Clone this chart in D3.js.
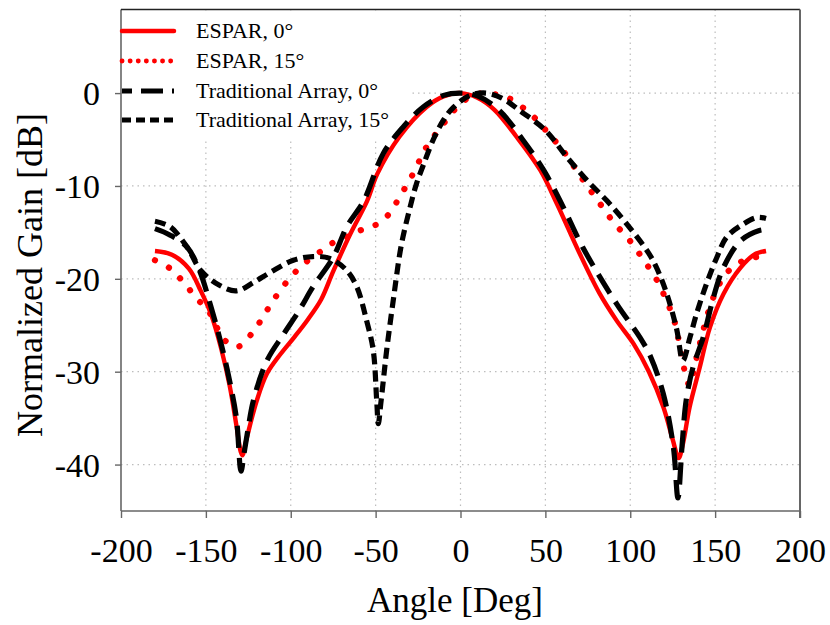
<!DOCTYPE html>
<html>
<head>
<meta charset="utf-8">
<script src="https://cdn.jsdelivr.net/npm/d3@7"></script>
<style>
  html, body { margin: 0; padding: 0; background: #fff; }
  svg { display: block; font-family: "Liberation Serif", "Times New Roman", serif; }
</style>
</head>
<body>
<svg id="chart" width="830" height="625"></svg>
<script>
// Axis ticks
const xTicks = [-200, -150, -100, -50, 0, 50, 100, 150, 200];
const yTicks = [0, -10, -20, -30, -40];

// Series names
const seriesNames = ["ESPAR, 0\u00B0", "ESPAR, 15\u00B0", "Traditional Array, 0\u00B0", "Traditional Array, 15\u00B0"];

// ESPAR, steered to 0°
const espar0Angle = [-180, -170, -160, -153, -147, -141, -136, -132, -129.5, -128.5, -126, -120, -114, -106, -98, -90, -82, -75, -65, -55, -49, -36, -20, -10, 0, 10, 20, 33, 47, 57, 70, 82, 92, 102, 111, 119.5, 125, 128.5, 131, 135, 141, 147, 155, 165, 173, 180];
const espar0Gain  = [-17, -17.4, -18.9, -21.3, -23.8, -27.5, -31.5, -35.8, -38.6, -39, -37.2, -33.1, -30.2, -28.1, -26.3, -24.4, -22.2, -19.2, -15.2, -11.6, -8.7, -4.7, -1.5, -0.35, 0, -0.5, -1.8, -4.7, -8.3, -12, -17.2, -21.6, -24.5, -27, -30, -33.8, -37.3, -39.3, -37.8, -33.8, -29.5, -25.2, -21.6, -18.8, -17.4, -17];

// ESPAR, steered to 15°
const espar15Angle = [-180, -171, -163, -156, -148, -139, -131, -123, -117, -112, -106, -99, -91, -82, -75, -66, -58, -49, -41.5, -36, -31, -26, -22, -17, -10, -4, 3, 8, 14, 22, 29, 37, 45, 52, 60, 72, 84.5, 91, 98.5, 105, 111, 116.5, 120.5, 124, 127, 130, 133, 135, 137, 141, 147, 153, 160, 170, 180];
const espar15Gain  = [-18, -18.9, -20.4, -22, -23.6, -26.6, -27.3, -25.9, -24.3, -22.8, -21.2, -19.6, -18.2, -17, -16.1, -15.4, -14.7, -14.1, -12.9, -11.2, -9.7, -8, -6.4, -5, -3.3, -1.9, -0.7, -0.2, 0, -0.2, -0.6, -1.6, -2.9, -4.4, -6.1, -9.3, -12.5, -14.1, -15.6, -17.2, -18.8, -20.4, -22, -23.5, -25.2, -28.1, -30.6, -31.5, -30.2, -27, -23, -20.4, -18.8, -17.8, -17.6];

// Traditional array, steered to 0°
const trad0Angle = [-180, -171, -161, -154, -147, -141, -136, -132, -129.3, -127.5, -125, -122, -114, -104, -95, -87, -75, -67, -57, -45.5, -34, -22, -10, 0, 10, 23, 37, 49, 60.6, 72, 92, 105.7, 112, 119.5, 125.4, 128.1, 130.5, 133, 137, 143, 149, 155, 165, 176, 180];
const trad0Gain  = [-14.6, -15.3, -16.6, -19, -23, -27, -31, -35, -40.7, -38.8, -36, -33.1, -28.8, -25.9, -23.4, -20.9, -17.7, -14.4, -11.6, -6.5, -3.7, -1.5, -0.25, 0, -0.3, -1.9, -5.1, -8.3, -12.3, -16.6, -22.7, -26.3, -28.4, -32.4, -38.1, -43.6, -38, -33, -29.5, -26.3, -22, -18.75, -15.9, -14.8, -14.7];

// Traditional array, steered to 15°
const trad15Angle = [-180, -171, -161, -153, -142, -132, -122, -112, -98.5, -87, -77, -67, -61, -55.3, -51.4, -49.4, -48.4, -47, -45.5, -43.5, -39.6, -35, -30, -26, -22, -16, -10, -5, 5, 15, 25, 35, 50, 62.7, 74.5, 86.3, 98, 110, 115, 121.5, 127.3, 131, 135.2, 139, 145, 151, 156.8, 166.6, 174.5, 180];
const trad15Gain  = [-13.8, -14.4, -16.6, -19.1, -20.7, -21.3, -20.4, -19.3, -18, -17.6, -17.8, -19.1, -20.9, -24.5, -27.7, -33, -35.6, -33.5, -31, -27.7, -22.3, -16.5, -12.5, -9.8, -7.8, -5, -2.9, -1.7, -0.3, 0, -0.6, -1.9, -4.0, -6.9, -9.4, -11.6, -14.1, -17, -18.6, -21.6, -25.4, -28.8, -26.3, -23.8, -20.5, -17.7, -15.5, -14.1, -13.4, -13.5];

const svg = d3.select("#chart");
const plotLeft = 121, plotRight = 800, plotTop = 9.5, plotBottom = 511;

const x = d3.scaleLinear().domain([-200, 200]).range([plotLeft, plotRight]);
const y = d3.scaleLinear().domain([-45, 9]).range([plotBottom, plotTop]);

// Dotted grid
const grid = svg.append("g").attr("class", "grid");
grid.selectAll("line.gx").data(xTicks.filter(t => t > -200 && t < 200)).join("line")
  .attr("class", "gx")
  .attr("x1", d => x(d)).attr("x2", d => x(d))
  .attr("y1", plotTop).attr("y2", plotBottom)
  .attr("stroke", "#bdbdbd").attr("stroke-width", 1.2).attr("stroke-dasharray", "1.5,4");
grid.selectAll("line.gy").data(yTicks).join("line")
  .attr("class", "gy")
  .attr("x1", plotLeft).attr("x2", plotRight)
  .attr("y1", d => y(d)).attr("y2", d => y(d))
  .attr("stroke", "#bdbdbd").attr("stroke-width", 1.2).attr("stroke-dasharray", "1.5,4");

// Legend background hides the grid behind it
svg.append("rect").attr("x", plotLeft + 1).attr("y", plotTop + 1).attr("width", 290).attr("height", 128).attr("fill", "#fff");

// Curves
svg.append("clipPath").attr("id", "plotClip")
  .append("rect").attr("x", plotLeft).attr("y", plotTop).attr("width", plotRight - plotLeft).attr("height", plotBottom - plotTop);

const line = d3.line().x(d => x(d[0])).y(d => y(d[1])).curve(d3.curveCatmullRom.alpha(0.5));
const zip = (a, b) => a.map((v, i) => [v, b[i]]);

const styles = [
  { data: zip(espar0Angle, espar0Gain), color: "#ff0000", width: 4.4, dash: null, cap: "butt",
    legendDash: null, legendWidth: 4.5, legendCap: "round" },
  { data: zip(espar15Angle, espar15Gain), color: "#ff0000", width: 6.2, dash: "0.1,15.5", cap: "round",
    legendDash: "0.1,8", legendWidth: 4.8, legendCap: "round" },
  { data: zip(trad0Angle, trad0Gain), color: "#000", width: 5.2, dash: "22,10", cap: "butt",
    legendDash: "10,9,22,9", legendWidth: 5, legendCap: "butt" },
  { data: zip(trad15Angle, trad15Gain), color: "#000", width: 5.2, dash: "11,6", cap: "butt",
    legendDash: "9,5", legendWidth: 5, legendCap: "butt" }
];

const plot = svg.append("g").attr("clip-path", "url(#plotClip)");
styles.forEach(s => {
  plot.append("path")
    .attr("d", line(s.data))
    .attr("fill", "none")
    .attr("stroke", s.color)
    .attr("stroke-width", s.width)
    .attr("stroke-linecap", s.cap)
    .attr("stroke-linejoin", "round")
    .attr("stroke-dasharray", s.dash);
});

// Axes
const fmt = d => String(d);
const xAxis = d3.axisBottom(x).tickValues(xTicks).tickSize(7).tickFormat(fmt);
const yAxis = d3.axisLeft(y).tickValues(yTicks).tickSize(6).tickFormat(fmt);

const gx = svg.append("g").attr("transform", `translate(0,${plotBottom})`).call(xAxis);
gx.select(".domain").attr("d", `M${plotLeft},0H${plotRight}`).attr("stroke", "#666").attr("stroke-width", 1.6);
gx.selectAll(".tick line").attr("stroke", "#666").attr("stroke-width", 1.4);
gx.selectAll(".tick text")
  .attr("font-family", "Liberation Serif, serif")
  .attr("font-size", 34).attr("fill", "#000")
  .attr("y", 51).attr("dy", null);

const gy = svg.append("g").attr("transform", `translate(${plotLeft},0)`).call(yAxis);
gy.select(".domain").attr("d", `M0,${plotTop}V${plotBottom}`).attr("stroke", "#666").attr("stroke-width", 1.6);
gy.selectAll(".tick line").attr("stroke", "#666").attr("stroke-width", 1.4);
gy.selectAll(".tick text")
  .attr("font-family", "Liberation Serif, serif")
  .attr("font-size", 34).attr("fill", "#000")
  .attr("x", -21).attr("dy", "0.34em");

// Frame: top and right edges
svg.append("line").attr("x1", plotLeft).attr("x2", plotRight).attr("y1", plotTop).attr("y2", plotTop)
  .attr("stroke", "#222").attr("stroke-width", 1.6);
svg.append("line").attr("x1", plotRight).attr("x2", plotRight).attr("y1", plotTop).attr("y2", plotBottom + 7)
  .attr("stroke", "#666").attr("stroke-width", 2);

// Axis titles
svg.append("text").attr("x", 455).attr("y", 612).attr("text-anchor", "middle")
  .attr("font-size", 35).attr("fill", "#000").text("Angle [Deg]");
svg.append("text").attr("transform", "translate(42,275) rotate(-90)").attr("text-anchor", "middle")
  .attr("font-size", 36).attr("fill", "#000").text("Normalized Gain [dB]");

// Legend
const legendRows = [31, 61, 91, 120];
const legend = svg.append("g");
styles.forEach((s, i) => {
  legend.append("line")
    .attr("x1", 122).attr("x2", 174)
    .attr("y1", legendRows[i]).attr("y2", legendRows[i])
    .attr("stroke", s.color).attr("stroke-width", s.legendWidth)
    .attr("stroke-linecap", s.legendCap)
    .attr("stroke-dasharray", s.legendDash);
  legend.append("text")
    .attr("x", 196).attr("y", legendRows[i]).attr("dy", "0.33em")
    .attr("font-size", 22).attr("fill", "#000")
    .text(seriesNames[i]);
});
</script>
</body>
</html>
